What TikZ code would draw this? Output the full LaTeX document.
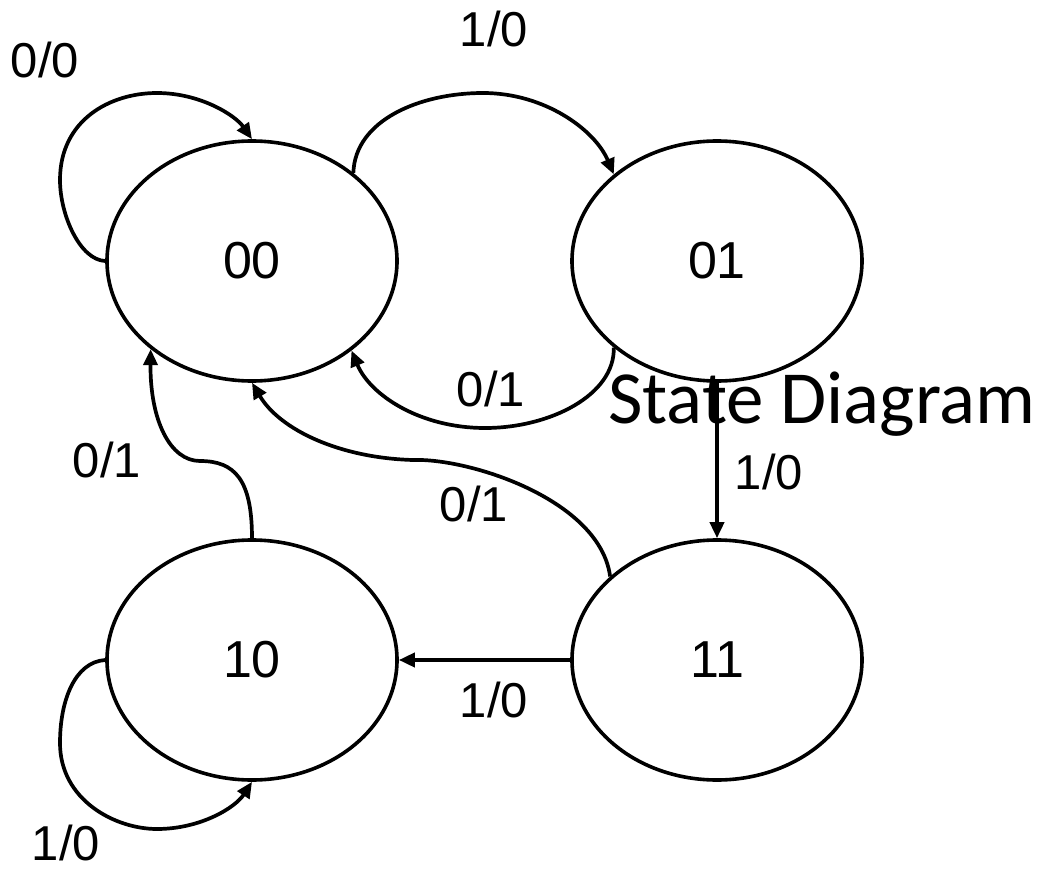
\documentclass[tikz,border=0pt]{standalone}
\usepackage{fontspec}
\setmainfont{Liberation Sans}
\newfontfamily\titlefont{Carlito}
\usetikzlibrary{shapes.geometric,arrows.meta}

\begin{document}
\begin{tikzpicture}[x=1pt,y=-1pt,
  state/.style={draw, ellipse, line width=3.6pt, minimum width=290pt, minimum height=240pt,
    inner sep=0pt, font=\fontsize{52}{60}\selectfont},
  lbl/.style={inner sep=0pt, font=\fontsize{49}{56}\selectfont},
  edge/.style={line width=3.7pt, -{Triangle[length=16pt,width=14pt]}}]
\useasboundingbox (0,0) rectangle (1039,869);

% states
\node[state] (s00) at (252,261) {00};
\node[state] (s01) at (717,261) {01};
\node[state] (s10) at (252,660) {10};
\node[state] (s11) at (717,660) {11};

% transitions
\draw[edge] (s00.west) .. controls (80,260) and (60,215) .. (60,180)
  .. controls (60,120) and (110,93) .. (157,93)
  .. controls (200,93) and (235,115) .. (s00.north);
\draw[edge] (s00.41) .. controls (355,120) and (420,93) .. (483,93)
  .. controls (545,93) and (595,130) .. (s01.140);
\draw[edge] (s01.220) .. controls (615,395) and (550,428) .. (485,428)
  .. controls (420,428) and (370,395) .. (s00.318);
\draw[edge] (s11.142) .. controls (600,500) and (470,458) .. (413,460)
  .. controls (340,458) and (280,430) .. (s00.south);
\draw[edge] (s10.north) .. controls (252,480) and (235,461) .. (200,461)
  .. controls (170,461) and (150,420) .. (s00.221);
\draw[edge] (s01.south) -- (s11.north);
\draw[edge] (s11.west) -- (s10.east);
\draw[edge] (s10.west) .. controls (75,662) and (60,700) .. (60,743)
  .. controls (60,800) and (115,829) .. (157,829)
  .. controls (200,829) and (235,808) .. (s10.south);

% transition labels
\node[lbl] (l00) at (45,60) {0/0};
\node[lbl] (l0001) at (494,29) {1/0};
\node[lbl] (l0100) at (491,389) {0/1};
\node[lbl] (l1100) at (474,504) {0/1};
\node[lbl] (l1000) at (107,460) {0/1};
\node[lbl] (l0111) at (769,472) {1/0};
\node[lbl] (l1110) at (494,700) {1/0};
\node[lbl] (l1010) at (66,843) {1/0};

% title
\node[inner sep=0pt, anchor=base west, font=\titlefont\fontsize{75}{85}\selectfont]
  (title) at (608,423) {State Diagram};
\end{tikzpicture}
\end{document}
